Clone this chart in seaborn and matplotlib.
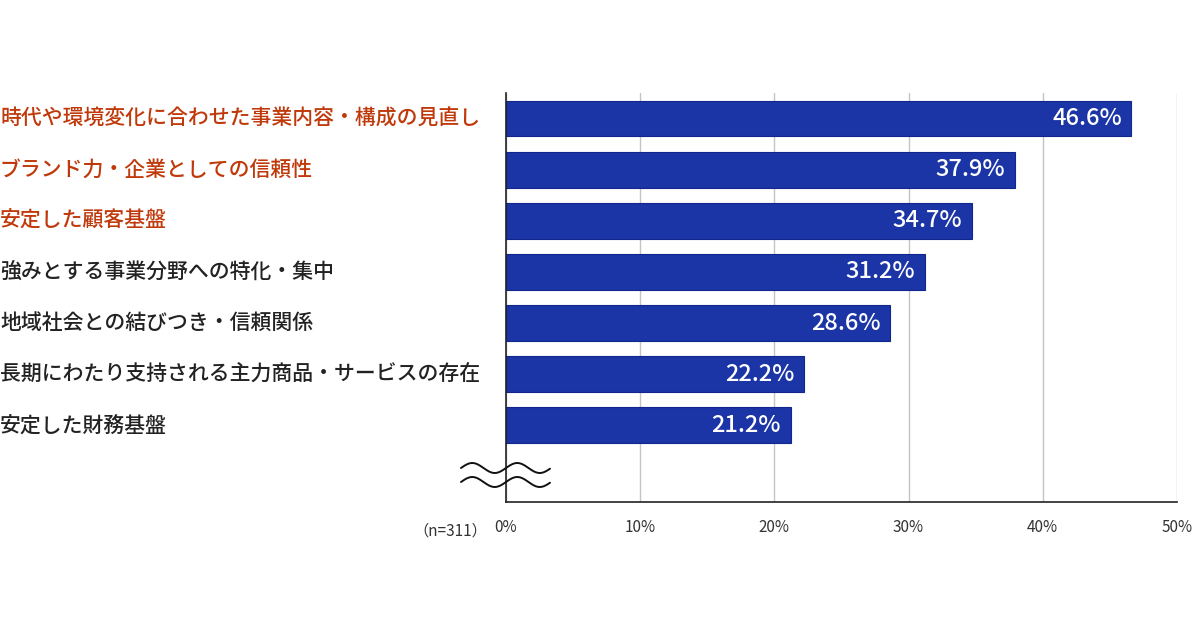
import numpy as np
import pandas as pd
import matplotlib
matplotlib.use("Agg")
import matplotlib.pyplot as plt
import matplotlib.transforms as mtransforms
import seaborn as sns

# データ
items = [
    "時代や環境変化に合わせた事業内容・構成の見直し",
    "ブランド力・企業としての信頼性",
    "安定した顧客基盤",
    "強みとする事業分野への特化・集中",
    "地域社会との結びつき・信頼関係",
    "長期にわたり支持される主力商品・サービスの存在",
    "安定した財務基盤",
]
values = [46.6, 37.9, 34.7, 31.2, 28.6, 22.2, 21.2]
highlight = [True, True, True, False, False, False, False]
ticks = [0, 10, 20, 30, 40, 50]
tick_labels = ["0%", "10%", "20%", "30%", "40%", "50%"]
n_label = "（n=311）"

df = pd.DataFrame({"item": items, "value": values})

sns.set_theme(style="white")
plt.rcParams["font.family"] = ["Noto Sans CJK JP", "DejaVu Sans"]

fig = plt.figure(figsize=(12, 6.3), dpi=100)
ax = fig.add_axes([0.4217, 0.2032, 0.5591, 0.6492])

sns.barplot(data=df, y="item", x="value", orient="h", color="#1b34a6",
            width=0.7, saturation=1, edgecolor="#12278c", linewidth=0.8, ax=ax)

ax.set_xlim(0, 50)
ax.set_ylim(7.5, -0.5)
ax.set_xticks(ticks)
ax.set_xticklabels(tick_labels, fontsize=11, color="#333333")
ax.tick_params(axis="x", length=0, pad=12)
ax.set_yticks([])
ax.set_xlabel("")
ax.set_ylabel("")

# グリッド線
ax.set_axisbelow(True)
ax.xaxis.grid(True, color="#c4c4c4", linewidth=1)
for s in ["top", "right"]:
    ax.spines[s].set_visible(False)
ax.spines["left"].set_color("#222222")
ax.spines["bottom"].set_color("#222222")
ax.spines["left"].set_linewidth(1.2)
ax.spines["bottom"].set_linewidth(1.2)

# 項目ラベル（左寄せ）
trans = mtransforms.blended_transform_factory(fig.transFigure, ax.transData)
for i, (label, hl) in enumerate(zip(items, highlight)):
    ax.text(0.0, i, label, transform=trans, ha="left", va="center",
            fontsize=15, fontweight="medium",
            color="#c0390b" if hl else "#222222")

# 値ラベル
for i, v in enumerate(values):
    ax.text(v - 0.7, i, f"{v:.1f}%", ha="right", va="center",
            fontsize=17, fontweight="medium", color="white")

# n数
ax.text(-0.028, -0.05, n_label, transform=ax.transAxes, ha="right",
        va="top", fontsize=11, color="#333333")

# 省略記号（波線）
xs = np.linspace(461, 550, 200)
for yc in (468, 482):
    ys = yc + 5 * np.sin((xs - 461) / 45 * 2 * np.pi + np.pi)
    fig.lines.append(plt.Line2D(xs / 1200, 1 - ys / 630, transform=fig.transFigure,
                                color="#111111", linewidth=1.4))

fig.savefig("out.png", dpi=100, facecolor="white")
